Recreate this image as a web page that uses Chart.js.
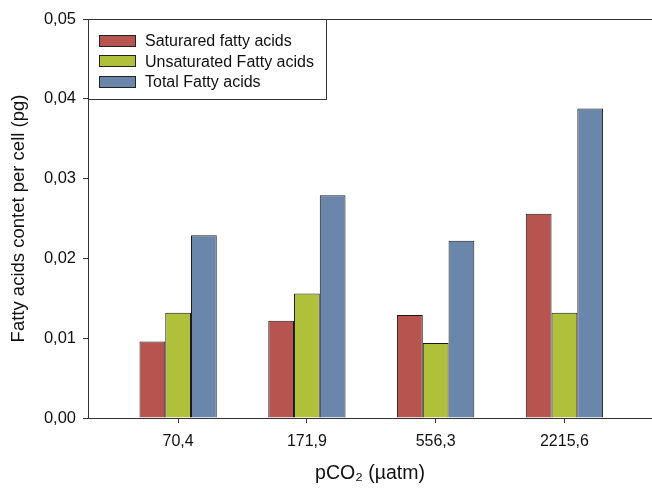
<!DOCTYPE html>
<html>
<head>
<meta charset="utf-8">
<script src="https://cdn.jsdelivr.net/npm/chart.js@4"></script>
<style>
  html, body { margin: 0; padding: 0; background: #fff; overflow: hidden; }
  #wrap { position: relative; width: 652px; height: 489px; }
  #grafico { position: absolute; left: 0; top: 0; }
  #legenda {
    position: absolute; left: 88px; top: 19px; width: 238px; height: 80px;
    border: 1px solid #333; border-left: none; border-top: none; background: transparent;
    font-family: "Liberation Sans", Arial, sans-serif; font-size: 16px; color: #111;
  }
  .item { position: absolute; left: 11px; height: 20px; line-height: 20px; white-space: nowrap; }
  .item span.caixa { display: inline-block; width: 35px; height: 10px; border: 1px solid #222; vertical-align: middle; margin-right: 9px; position: relative; top: -1px; }
</style>
</head>
<body>
<div id="wrap">
  <canvas id="grafico" width="652" height="489"></canvas>
  <div id="legenda"></div>
</div>
<script>
var categorias = ["70,4", "171,9", "556,3", "2215,6"];
var saturados = [0.0096, 0.0122, 0.0129, 0.0256];
var insaturados = [0.0132, 0.0156, 0.0094, 0.0132];
var totais = [0.0229, 0.0279, 0.0222, 0.0388];
var nomesSeries = ["Saturared fatty acids", "Unsaturated Fatty acids", "Total Fatty acids"];
var coresSeries = ["#b85450", "#b0c03a", "#6a86ab"];
var ticksY = [0, 0.01, 0.02, 0.03, 0.04, 0.05];

var fonte = "'Liberation Sans', Arial, sans-serif";

function montarPontos(valores) {
  var pontos = [];
  for (var i = 0; i < valores.length; i++) {
    pontos.push({ x: i + 1, y: valores[i] });
  }
  return pontos;
}

// legenda em html (caixa no canto do grafico)
var legenda = document.getElementById("legenda");
for (var i = 0; i < nomesSeries.length; i++) {
  legenda.innerHTML += `<div class="item" style="top:${12 + i * 20.5}px"><span class="caixa" style="background:${coresSeries[i]}"></span>${nomesSeries[i]}</div>`;
}

// moldura: linha de cima e eixo de baixo ate a borda
var moldura = {
  id: "moldura",
  afterDraw: function (chart) {
    var ctx = chart.ctx;
    var area = chart.chartArea;
    ctx.save();
    ctx.strokeStyle = "#333";
    ctx.lineWidth = 1;
    ctx.beginPath();
    ctx.moveTo(area.left, area.top + 0.5);
    ctx.lineTo(chart.width, area.top + 0.5);
    ctx.moveTo(area.left, Math.round(area.bottom) + 0.5);
    ctx.lineTo(chart.width, Math.round(area.bottom) + 0.5);
    ctx.stroke();
    ctx.restore();
  },
};

var seriesDados = [saturados, insaturados, totais];
var datasets = [];
for (var s = 0; s < seriesDados.length; s++) {
  datasets.push({
    label: nomesSeries[s],
    data: montarPontos(seriesDados[s]),
    backgroundColor: coresSeries[s],
    borderColor: "#1a1a1a",
    borderWidth: 1,
    categoryPercentage: 0.6,
    barPercentage: 1,
  });
}

new Chart(document.getElementById("grafico"), {
  type: "bar",
  data: { datasets: datasets },
  plugins: [moldura],
  options: {
    responsive: false,
    animation: false,
    layout: { padding: { top: 19, right: 0, left: 0, bottom: 0 } },
    scales: {
      x: {
        type: "linear",
        offset: false,
        min: 0.3,
        max: 4.68,
        afterBuildTicks: function (scale) {
          scale.ticks = categorias.map(function (c, i) { return { value: i + 1 }; });
        },
        afterFit: function (scale) { scale.height = 71; },
        ticks: {
          callback: function (valor) { return categorias[valor - 1]; },
          color: "#111",
          font: { family: fonte, size: 16 },
          padding: 9,
          maxRotation: 0,
        },
        grid: { display: true, offset: false, drawOnChartArea: false, drawTicks: true, tickLength: 5, color: "#333" },
        border: { display: true, color: "#333", width: 1 },
        title: {
          display: true,
          text: "pCO\u2082 (\u00b5atm)",
          color: "#111",
          font: { family: fonte, size: 19.5 },
          padding: { top: 1 },
        },
      },
      y: {
        min: 0,
        max: 0.05,
        afterBuildTicks: function (scale) {
          scale.ticks = ticksY.map(function (v) { return { value: v }; });
        },
        afterFit: function (scale) { scale.width = 88; },
        ticks: {
          callback: function (valor) { return valor.toFixed(2).replace(".", ","); },
          color: "#111",
          font: { family: fonte, size: 16.5 },
          padding: 7,
        },
        grid: { display: true, drawOnChartArea: false, drawTicks: true, tickLength: 5, color: "#333" },
        border: { display: true, color: "#333", width: 1 },
        title: {
          display: true,
          text: "Fatty acids contet per cell (pg)",
          color: "#111",
          font: { family: fonte, size: 18.5 },
          padding: { top: 8, bottom: 0 },
        },
      },
    },
    plugins: {
      legend: { display: false },
      tooltip: { enabled: false },
    },
  },
});
</script>
</body>
</html>
